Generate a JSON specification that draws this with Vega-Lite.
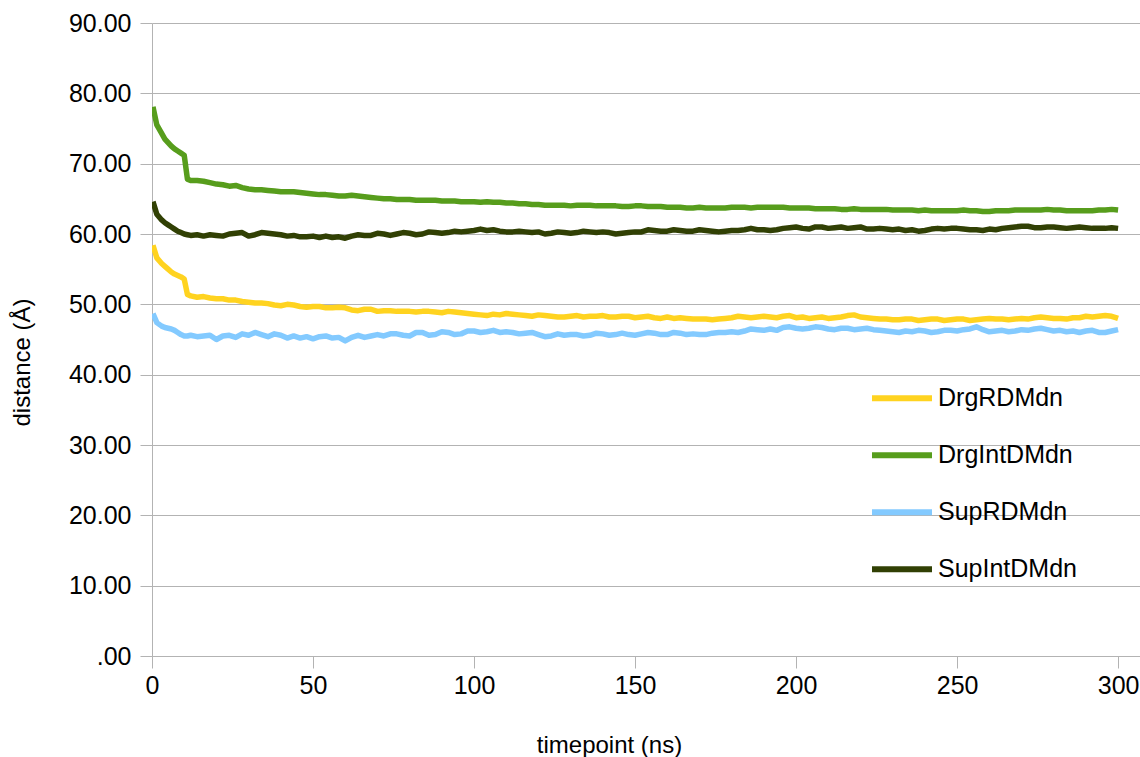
{
  "$schema": "https://vega.github.io/schema/vega-lite/v6.json",
  "width": 988,
  "height": 633,
  "autosize": "none",
  "padding": {"left": 152, "top": 23, "right": 0, "bottom": 101},
  "background": "white",
  "config": {
    "font": "Liberation Sans",
    "view": {"stroke": null},
    "axis": {"labelFont": "Liberation Sans", "titleFont": "Liberation Sans", "labelColor": "black", "titleColor": "black", "titleFontWeight": "normal"}
  },
  "data": {
    "values": [
      {"t":0.3,"DrgRDMdn":58.4,"DrgIntDMdn":78.1,"SupRDMdn":48.7,"SupIntDMdn":64.6},
      {"t":1.5,"DrgRDMdn":56.6,"DrgIntDMdn":75.5,"SupRDMdn":47.4,"SupIntDMdn":62.8},
      {"t":3,"DrgRDMdn":55.8,"DrgIntDMdn":74.3,"SupRDMdn":46.9,"SupIntDMdn":62.0},
      {"t":4,"DrgRDMdn":55.4,"DrgIntDMdn":73.5,"SupRDMdn":46.7,"SupIntDMdn":61.6},
      {"t":5,"DrgRDMdn":55.0,"DrgIntDMdn":73.0,"SupRDMdn":46.6,"SupIntDMdn":61.3},
      {"t":6,"DrgRDMdn":54.6,"DrgIntDMdn":72.5,"SupRDMdn":46.5,"SupIntDMdn":61.0},
      {"t":7,"DrgRDMdn":54.3,"DrgIntDMdn":72.1,"SupRDMdn":46.3,"SupIntDMdn":60.7},
      {"t":8,"DrgRDMdn":54.1,"DrgIntDMdn":71.8,"SupRDMdn":46.0,"SupIntDMdn":60.4},
      {"t":9,"DrgRDMdn":53.9,"DrgIntDMdn":71.5,"SupRDMdn":45.7,"SupIntDMdn":60.2},
      {"t":10,"DrgRDMdn":53.6,"DrgIntDMdn":71.2,"SupRDMdn":45.5,"SupIntDMdn":60.0},
      {"t":11,"DrgRDMdn":51.4,"DrgIntDMdn":67.8,"SupRDMdn":45.5,"SupIntDMdn":59.9},
      {"t":12,"DrgRDMdn":51.2,"DrgIntDMdn":67.6,"SupRDMdn":45.6,"SupIntDMdn":59.8},
      {"t":14,"DrgRDMdn":51.0,"DrgIntDMdn":67.6,"SupRDMdn":45.4,"SupIntDMdn":59.9},
      {"t":16,"DrgRDMdn":51.1,"DrgIntDMdn":67.5,"SupRDMdn":45.5,"SupIntDMdn":59.7},
      {"t":18,"DrgRDMdn":50.9,"DrgIntDMdn":67.3,"SupRDMdn":45.6,"SupIntDMdn":59.9},
      {"t":20,"DrgRDMdn":50.8,"DrgIntDMdn":67.1,"SupRDMdn":45.0,"SupIntDMdn":59.8},
      {"t":22,"DrgRDMdn":50.8,"DrgIntDMdn":67.0,"SupRDMdn":45.5,"SupIntDMdn":59.7},
      {"t":24,"DrgRDMdn":50.6,"DrgIntDMdn":66.8,"SupRDMdn":45.6,"SupIntDMdn":60.0},
      {"t":26,"DrgRDMdn":50.6,"DrgIntDMdn":66.9,"SupRDMdn":45.3,"SupIntDMdn":60.1},
      {"t":28,"DrgRDMdn":50.4,"DrgIntDMdn":66.6,"SupRDMdn":45.8,"SupIntDMdn":60.2},
      {"t":30,"DrgRDMdn":50.3,"DrgIntDMdn":66.4,"SupRDMdn":45.6,"SupIntDMdn":59.7},
      {"t":32,"DrgRDMdn":50.2,"DrgIntDMdn":66.3,"SupRDMdn":46.0,"SupIntDMdn":59.9},
      {"t":34,"DrgRDMdn":50.2,"DrgIntDMdn":66.3,"SupRDMdn":45.7,"SupIntDMdn":60.2},
      {"t":36,"DrgRDMdn":50.1,"DrgIntDMdn":66.2,"SupRDMdn":45.4,"SupIntDMdn":60.1},
      {"t":38,"DrgRDMdn":49.9,"DrgIntDMdn":66.1,"SupRDMdn":45.8,"SupIntDMdn":60.0},
      {"t":40,"DrgRDMdn":49.8,"DrgIntDMdn":66.0,"SupRDMdn":45.6,"SupIntDMdn":59.9},
      {"t":42,"DrgRDMdn":50.0,"DrgIntDMdn":66.0,"SupRDMdn":45.2,"SupIntDMdn":59.7},
      {"t":44,"DrgRDMdn":49.9,"DrgIntDMdn":66.0,"SupRDMdn":45.5,"SupIntDMdn":59.8},
      {"t":46,"DrgRDMdn":49.7,"DrgIntDMdn":65.9,"SupRDMdn":45.2,"SupIntDMdn":59.6},
      {"t":48,"DrgRDMdn":49.6,"DrgIntDMdn":65.8,"SupRDMdn":45.4,"SupIntDMdn":59.6},
      {"t":50,"DrgRDMdn":49.7,"DrgIntDMdn":65.7,"SupRDMdn":45.1,"SupIntDMdn":59.7},
      {"t":52,"DrgRDMdn":49.7,"DrgIntDMdn":65.6,"SupRDMdn":45.4,"SupIntDMdn":59.5},
      {"t":54,"DrgRDMdn":49.5,"DrgIntDMdn":65.6,"SupRDMdn":45.5,"SupIntDMdn":59.7},
      {"t":56,"DrgRDMdn":49.5,"DrgIntDMdn":65.5,"SupRDMdn":45.2,"SupIntDMdn":59.5},
      {"t":58,"DrgRDMdn":49.6,"DrgIntDMdn":65.4,"SupRDMdn":45.3,"SupIntDMdn":59.6},
      {"t":60,"DrgRDMdn":49.5,"DrgIntDMdn":65.4,"SupRDMdn":44.8,"SupIntDMdn":59.4},
      {"t":62,"DrgRDMdn":49.2,"DrgIntDMdn":65.5,"SupRDMdn":45.3,"SupIntDMdn":59.7},
      {"t":64,"DrgRDMdn":49.1,"DrgIntDMdn":65.4,"SupRDMdn":45.6,"SupIntDMdn":59.9},
      {"t":66,"DrgRDMdn":49.3,"DrgIntDMdn":65.3,"SupRDMdn":45.3,"SupIntDMdn":59.8},
      {"t":68,"DrgRDMdn":49.3,"DrgIntDMdn":65.2,"SupRDMdn":45.5,"SupIntDMdn":59.8},
      {"t":70,"DrgRDMdn":49.0,"DrgIntDMdn":65.1,"SupRDMdn":45.7,"SupIntDMdn":60.1},
      {"t":72,"DrgRDMdn":49.1,"DrgIntDMdn":65.0,"SupRDMdn":45.5,"SupIntDMdn":60.0},
      {"t":74,"DrgRDMdn":49.1,"DrgIntDMdn":65.0,"SupRDMdn":45.8,"SupIntDMdn":59.8},
      {"t":76,"DrgRDMdn":49.0,"DrgIntDMdn":64.9,"SupRDMdn":45.8,"SupIntDMdn":60.0},
      {"t":78,"DrgRDMdn":49.0,"DrgIntDMdn":64.9,"SupRDMdn":45.6,"SupIntDMdn":60.2},
      {"t":80,"DrgRDMdn":49.0,"DrgIntDMdn":64.9,"SupRDMdn":45.5,"SupIntDMdn":60.1},
      {"t":82,"DrgRDMdn":48.9,"DrgIntDMdn":64.8,"SupRDMdn":46.0,"SupIntDMdn":59.9},
      {"t":84,"DrgRDMdn":49.0,"DrgIntDMdn":64.8,"SupRDMdn":46.0,"SupIntDMdn":60.0},
      {"t":86,"DrgRDMdn":49.0,"DrgIntDMdn":64.8,"SupRDMdn":45.6,"SupIntDMdn":60.3},
      {"t":88,"DrgRDMdn":48.9,"DrgIntDMdn":64.8,"SupRDMdn":45.7,"SupIntDMdn":60.2},
      {"t":90,"DrgRDMdn":48.8,"DrgIntDMdn":64.7,"SupRDMdn":46.1,"SupIntDMdn":60.1},
      {"t":92,"DrgRDMdn":49.0,"DrgIntDMdn":64.7,"SupRDMdn":46.0,"SupIntDMdn":60.2},
      {"t":94,"DrgRDMdn":48.9,"DrgIntDMdn":64.7,"SupRDMdn":45.7,"SupIntDMdn":60.4},
      {"t":96,"DrgRDMdn":48.8,"DrgIntDMdn":64.6,"SupRDMdn":45.8,"SupIntDMdn":60.3},
      {"t":98,"DrgRDMdn":48.7,"DrgIntDMdn":64.6,"SupRDMdn":46.2,"SupIntDMdn":60.4},
      {"t":100,"DrgRDMdn":48.6,"DrgIntDMdn":64.6,"SupRDMdn":46.2,"SupIntDMdn":60.5},
      {"t":102,"DrgRDMdn":48.5,"DrgIntDMdn":64.5,"SupRDMdn":46.0,"SupIntDMdn":60.7},
      {"t":104,"DrgRDMdn":48.4,"DrgIntDMdn":64.6,"SupRDMdn":46.1,"SupIntDMdn":60.5},
      {"t":106,"DrgRDMdn":48.6,"DrgIntDMdn":64.5,"SupRDMdn":46.3,"SupIntDMdn":60.6},
      {"t":108,"DrgRDMdn":48.5,"DrgIntDMdn":64.5,"SupRDMdn":46.0,"SupIntDMdn":60.4},
      {"t":110,"DrgRDMdn":48.7,"DrgIntDMdn":64.4,"SupRDMdn":46.1,"SupIntDMdn":60.3},
      {"t":112,"DrgRDMdn":48.6,"DrgIntDMdn":64.4,"SupRDMdn":46.0,"SupIntDMdn":60.3},
      {"t":114,"DrgRDMdn":48.5,"DrgIntDMdn":64.3,"SupRDMdn":45.8,"SupIntDMdn":60.4},
      {"t":116,"DrgRDMdn":48.4,"DrgIntDMdn":64.3,"SupRDMdn":45.9,"SupIntDMdn":60.3},
      {"t":118,"DrgRDMdn":48.3,"DrgIntDMdn":64.2,"SupRDMdn":46.0,"SupIntDMdn":60.2},
      {"t":120,"DrgRDMdn":48.5,"DrgIntDMdn":64.2,"SupRDMdn":45.7,"SupIntDMdn":60.3},
      {"t":122,"DrgRDMdn":48.4,"DrgIntDMdn":64.1,"SupRDMdn":45.4,"SupIntDMdn":60.0},
      {"t":124,"DrgRDMdn":48.3,"DrgIntDMdn":64.1,"SupRDMdn":45.5,"SupIntDMdn":60.1},
      {"t":126,"DrgRDMdn":48.2,"DrgIntDMdn":64.1,"SupRDMdn":45.8,"SupIntDMdn":60.3},
      {"t":128,"DrgRDMdn":48.2,"DrgIntDMdn":64.1,"SupRDMdn":45.6,"SupIntDMdn":60.2},
      {"t":130,"DrgRDMdn":48.3,"DrgIntDMdn":64.0,"SupRDMdn":45.7,"SupIntDMdn":60.1},
      {"t":132,"DrgRDMdn":48.4,"DrgIntDMdn":64.1,"SupRDMdn":45.7,"SupIntDMdn":60.2},
      {"t":134,"DrgRDMdn":48.2,"DrgIntDMdn":64.1,"SupRDMdn":45.5,"SupIntDMdn":60.4},
      {"t":136,"DrgRDMdn":48.3,"DrgIntDMdn":64.1,"SupRDMdn":45.6,"SupIntDMdn":60.3},
      {"t":138,"DrgRDMdn":48.3,"DrgIntDMdn":64.0,"SupRDMdn":45.9,"SupIntDMdn":60.2},
      {"t":140,"DrgRDMdn":48.4,"DrgIntDMdn":64.0,"SupRDMdn":45.8,"SupIntDMdn":60.3},
      {"t":142,"DrgRDMdn":48.2,"DrgIntDMdn":64.0,"SupRDMdn":45.6,"SupIntDMdn":60.2},
      {"t":144,"DrgRDMdn":48.2,"DrgIntDMdn":64.0,"SupRDMdn":45.7,"SupIntDMdn":60.0},
      {"t":146,"DrgRDMdn":48.3,"DrgIntDMdn":63.9,"SupRDMdn":45.9,"SupIntDMdn":60.1},
      {"t":148,"DrgRDMdn":48.3,"DrgIntDMdn":63.9,"SupRDMdn":45.7,"SupIntDMdn":60.2},
      {"t":150,"DrgRDMdn":48.1,"DrgIntDMdn":64.0,"SupRDMdn":45.6,"SupIntDMdn":60.3},
      {"t":152,"DrgRDMdn":48.2,"DrgIntDMdn":64.0,"SupRDMdn":45.8,"SupIntDMdn":60.3},
      {"t":154,"DrgRDMdn":48.3,"DrgIntDMdn":63.9,"SupRDMdn":46.0,"SupIntDMdn":60.6},
      {"t":156,"DrgRDMdn":48.1,"DrgIntDMdn":63.9,"SupRDMdn":45.9,"SupIntDMdn":60.5},
      {"t":158,"DrgRDMdn":48.0,"DrgIntDMdn":63.9,"SupRDMdn":45.7,"SupIntDMdn":60.4},
      {"t":160,"DrgRDMdn":48.2,"DrgIntDMdn":63.8,"SupRDMdn":45.7,"SupIntDMdn":60.4},
      {"t":162,"DrgRDMdn":48.0,"DrgIntDMdn":63.8,"SupRDMdn":46.0,"SupIntDMdn":60.6},
      {"t":164,"DrgRDMdn":48.1,"DrgIntDMdn":63.8,"SupRDMdn":45.9,"SupIntDMdn":60.5},
      {"t":166,"DrgRDMdn":48.0,"DrgIntDMdn":63.7,"SupRDMdn":45.7,"SupIntDMdn":60.4},
      {"t":168,"DrgRDMdn":47.9,"DrgIntDMdn":63.7,"SupRDMdn":45.8,"SupIntDMdn":60.4},
      {"t":170,"DrgRDMdn":47.9,"DrgIntDMdn":63.8,"SupRDMdn":45.7,"SupIntDMdn":60.6},
      {"t":172,"DrgRDMdn":47.9,"DrgIntDMdn":63.7,"SupRDMdn":45.7,"SupIntDMdn":60.5},
      {"t":174,"DrgRDMdn":47.8,"DrgIntDMdn":63.7,"SupRDMdn":45.9,"SupIntDMdn":60.4},
      {"t":176,"DrgRDMdn":47.9,"DrgIntDMdn":63.7,"SupRDMdn":46.0,"SupIntDMdn":60.3},
      {"t":178,"DrgRDMdn":48.0,"DrgIntDMdn":63.7,"SupRDMdn":46.0,"SupIntDMdn":60.4},
      {"t":180,"DrgRDMdn":48.1,"DrgIntDMdn":63.8,"SupRDMdn":46.1,"SupIntDMdn":60.5},
      {"t":182,"DrgRDMdn":48.3,"DrgIntDMdn":63.8,"SupRDMdn":46.0,"SupIntDMdn":60.5},
      {"t":184,"DrgRDMdn":48.2,"DrgIntDMdn":63.8,"SupRDMdn":46.2,"SupIntDMdn":60.6},
      {"t":186,"DrgRDMdn":48.1,"DrgIntDMdn":63.7,"SupRDMdn":46.5,"SupIntDMdn":60.8},
      {"t":188,"DrgRDMdn":48.2,"DrgIntDMdn":63.8,"SupRDMdn":46.4,"SupIntDMdn":60.6},
      {"t":190,"DrgRDMdn":48.3,"DrgIntDMdn":63.8,"SupRDMdn":46.3,"SupIntDMdn":60.6},
      {"t":192,"DrgRDMdn":48.2,"DrgIntDMdn":63.8,"SupRDMdn":46.5,"SupIntDMdn":60.5},
      {"t":194,"DrgRDMdn":48.1,"DrgIntDMdn":63.8,"SupRDMdn":46.3,"SupIntDMdn":60.6},
      {"t":196,"DrgRDMdn":48.3,"DrgIntDMdn":63.8,"SupRDMdn":46.7,"SupIntDMdn":60.8},
      {"t":198,"DrgRDMdn":48.4,"DrgIntDMdn":63.7,"SupRDMdn":46.8,"SupIntDMdn":60.9},
      {"t":200,"DrgRDMdn":48.1,"DrgIntDMdn":63.7,"SupRDMdn":46.6,"SupIntDMdn":61.0},
      {"t":202,"DrgRDMdn":48.2,"DrgIntDMdn":63.7,"SupRDMdn":46.5,"SupIntDMdn":60.8},
      {"t":204,"DrgRDMdn":48.0,"DrgIntDMdn":63.7,"SupRDMdn":46.6,"SupIntDMdn":60.7},
      {"t":206,"DrgRDMdn":48.1,"DrgIntDMdn":63.6,"SupRDMdn":46.8,"SupIntDMdn":61.0},
      {"t":208,"DrgRDMdn":48.2,"DrgIntDMdn":63.6,"SupRDMdn":46.7,"SupIntDMdn":61.0},
      {"t":210,"DrgRDMdn":48.0,"DrgIntDMdn":63.6,"SupRDMdn":46.5,"SupIntDMdn":60.8},
      {"t":212,"DrgRDMdn":48.1,"DrgIntDMdn":63.6,"SupRDMdn":46.4,"SupIntDMdn":60.9},
      {"t":214,"DrgRDMdn":48.2,"DrgIntDMdn":63.5,"SupRDMdn":46.6,"SupIntDMdn":61.0},
      {"t":216,"DrgRDMdn":48.4,"DrgIntDMdn":63.5,"SupRDMdn":46.6,"SupIntDMdn":60.8},
      {"t":218,"DrgRDMdn":48.5,"DrgIntDMdn":63.6,"SupRDMdn":46.4,"SupIntDMdn":60.9},
      {"t":220,"DrgRDMdn":48.2,"DrgIntDMdn":63.5,"SupRDMdn":46.5,"SupIntDMdn":61.0},
      {"t":222,"DrgRDMdn":48.1,"DrgIntDMdn":63.5,"SupRDMdn":46.6,"SupIntDMdn":60.7},
      {"t":224,"DrgRDMdn":48.0,"DrgIntDMdn":63.5,"SupRDMdn":46.4,"SupIntDMdn":60.7},
      {"t":226,"DrgRDMdn":47.9,"DrgIntDMdn":63.5,"SupRDMdn":46.3,"SupIntDMdn":60.8},
      {"t":228,"DrgRDMdn":47.9,"DrgIntDMdn":63.5,"SupRDMdn":46.2,"SupIntDMdn":60.7},
      {"t":230,"DrgRDMdn":47.8,"DrgIntDMdn":63.4,"SupRDMdn":46.1,"SupIntDMdn":60.6},
      {"t":232,"DrgRDMdn":47.8,"DrgIntDMdn":63.4,"SupRDMdn":46.0,"SupIntDMdn":60.7},
      {"t":234,"DrgRDMdn":47.9,"DrgIntDMdn":63.4,"SupRDMdn":46.2,"SupIntDMdn":60.5},
      {"t":236,"DrgRDMdn":47.9,"DrgIntDMdn":63.4,"SupRDMdn":46.1,"SupIntDMdn":60.6},
      {"t":238,"DrgRDMdn":47.7,"DrgIntDMdn":63.3,"SupRDMdn":46.3,"SupIntDMdn":60.4},
      {"t":240,"DrgRDMdn":47.8,"DrgIntDMdn":63.4,"SupRDMdn":46.2,"SupIntDMdn":60.5},
      {"t":242,"DrgRDMdn":47.9,"DrgIntDMdn":63.3,"SupRDMdn":46.0,"SupIntDMdn":60.7},
      {"t":244,"DrgRDMdn":47.9,"DrgIntDMdn":63.3,"SupRDMdn":46.1,"SupIntDMdn":60.8},
      {"t":246,"DrgRDMdn":47.7,"DrgIntDMdn":63.3,"SupRDMdn":46.3,"SupIntDMdn":60.7},
      {"t":248,"DrgRDMdn":47.8,"DrgIntDMdn":63.3,"SupRDMdn":46.3,"SupIntDMdn":60.8},
      {"t":250,"DrgRDMdn":47.9,"DrgIntDMdn":63.3,"SupRDMdn":46.2,"SupIntDMdn":60.8},
      {"t":252,"DrgRDMdn":47.9,"DrgIntDMdn":63.4,"SupRDMdn":46.4,"SupIntDMdn":60.7},
      {"t":254,"DrgRDMdn":47.7,"DrgIntDMdn":63.3,"SupRDMdn":46.5,"SupIntDMdn":60.6},
      {"t":256,"DrgRDMdn":47.8,"DrgIntDMdn":63.3,"SupRDMdn":46.8,"SupIntDMdn":60.6},
      {"t":258,"DrgRDMdn":47.9,"DrgIntDMdn":63.2,"SupRDMdn":46.4,"SupIntDMdn":60.5},
      {"t":260,"DrgRDMdn":48.0,"DrgIntDMdn":63.2,"SupRDMdn":46.1,"SupIntDMdn":60.7},
      {"t":262,"DrgRDMdn":47.9,"DrgIntDMdn":63.3,"SupRDMdn":46.2,"SupIntDMdn":60.6},
      {"t":264,"DrgRDMdn":47.9,"DrgIntDMdn":63.3,"SupRDMdn":46.3,"SupIntDMdn":60.8},
      {"t":266,"DrgRDMdn":47.8,"DrgIntDMdn":63.3,"SupRDMdn":46.1,"SupIntDMdn":60.9},
      {"t":268,"DrgRDMdn":47.9,"DrgIntDMdn":63.4,"SupRDMdn":46.2,"SupIntDMdn":61.0},
      {"t":270,"DrgRDMdn":48.0,"DrgIntDMdn":63.4,"SupRDMdn":46.4,"SupIntDMdn":61.1},
      {"t":272,"DrgRDMdn":47.9,"DrgIntDMdn":63.4,"SupRDMdn":46.3,"SupIntDMdn":61.1},
      {"t":274,"DrgRDMdn":48.1,"DrgIntDMdn":63.4,"SupRDMdn":46.5,"SupIntDMdn":60.9},
      {"t":276,"DrgRDMdn":48.2,"DrgIntDMdn":63.4,"SupRDMdn":46.6,"SupIntDMdn":60.9},
      {"t":278,"DrgRDMdn":48.1,"DrgIntDMdn":63.5,"SupRDMdn":46.4,"SupIntDMdn":61.0},
      {"t":280,"DrgRDMdn":48.0,"DrgIntDMdn":63.4,"SupRDMdn":46.2,"SupIntDMdn":61.0},
      {"t":282,"DrgRDMdn":48.0,"DrgIntDMdn":63.4,"SupRDMdn":46.3,"SupIntDMdn":60.9},
      {"t":284,"DrgRDMdn":47.9,"DrgIntDMdn":63.3,"SupRDMdn":46.1,"SupIntDMdn":60.8},
      {"t":286,"DrgRDMdn":48.1,"DrgIntDMdn":63.3,"SupRDMdn":46.2,"SupIntDMdn":60.9},
      {"t":288,"DrgRDMdn":48.1,"DrgIntDMdn":63.3,"SupRDMdn":46.0,"SupIntDMdn":61.0},
      {"t":290,"DrgRDMdn":48.3,"DrgIntDMdn":63.3,"SupRDMdn":46.2,"SupIntDMdn":60.9},
      {"t":292,"DrgRDMdn":48.2,"DrgIntDMdn":63.3,"SupRDMdn":46.3,"SupIntDMdn":60.8},
      {"t":294,"DrgRDMdn":48.3,"DrgIntDMdn":63.4,"SupRDMdn":46.0,"SupIntDMdn":60.8},
      {"t":296,"DrgRDMdn":48.4,"DrgIntDMdn":63.4,"SupRDMdn":46.0,"SupIntDMdn":60.8},
      {"t":298,"DrgRDMdn":48.3,"DrgIntDMdn":63.5,"SupRDMdn":46.2,"SupIntDMdn":60.9},
      {"t":300,"DrgRDMdn":48.0,"DrgIntDMdn":63.4,"SupRDMdn":46.4,"SupIntDMdn":60.8}
    ]
  },
  "transform": [
    {"fold": ["DrgRDMdn", "DrgIntDMdn", "SupRDMdn", "SupIntDMdn"], "as": ["series", "distance"]}
  ],
  "mark": {"type": "line", "strokeWidth": 5.5, "strokeJoin": "round", "clip": true},
  "encoding": {
    "x": {
      "field": "t",
      "type": "quantitative",
      "scale": {"domain": [0, 306.8], "nice": false, "zero": false},
      "axis": {
        "title": "timepoint (ns)",
        "values": [0, 50, 100, 150, 200, 250, 300],
        "grid": false,
        "domain": true,
        "domainColor": "#b3b3b3",
        "tickColor": "#b3b3b3",
        "tickSize": 12,
        "labelFlush": false,
        "labelFontSize": 25,
        "labelPadding": 5,
        "titleFontSize": 24,
        "titleX": 457,
        "titleY": 89,
        "titleBaseline": "middle",
        "titleAnchor": "middle"
      }
    },
    "y": {
      "field": "distance",
      "type": "quantitative",
      "scale": {"domain": [0, 90], "nice": false},
      "axis": {
        "title": "distance (Å)",
        "values": [0, 10, 20, 30, 40, 50, 60, 70, 80, 90],
        "labelExpr": "datum.value == 0 ? '.00' : format(datum.value, '.2f')",
        "grid": true,
        "gridColor": "#b3b3b3",
        "domain": true,
        "domainColor": "#b3b3b3",
        "tickColor": "#b3b3b3",
        "tickSize": 12,
        "labelFontSize": 25,
        "labelPadding": 9,
        "titleFontSize": 24,
        "titleX": -130,
        "titleY": 339,
        "titleBaseline": "middle",
        "titleAnchor": "middle"
      }
    },
    "color": {
      "field": "series",
      "type": "nominal",
      "scale": {
        "domain": ["DrgRDMdn", "DrgIntDMdn", "SupRDMdn", "SupIntDMdn"],
        "range": ["#ffd320", "#579d1c", "#83caff", "#314004"]
      },
      "legend": {
        "title": null,
        "orient": "none",
        "legendX": 717,
        "legendY": 347,
        "padding": 0,
        "symbolType": "stroke",
        "symbolSize": 3600,
        "symbolStrokeWidth": 6,
        "labelFontSize": 25,
        "labelOffset": 3,
        "labelColor": "black",
        "clipHeight": 56.3,
        "rowPadding": 0
      }
    }
  }
}
